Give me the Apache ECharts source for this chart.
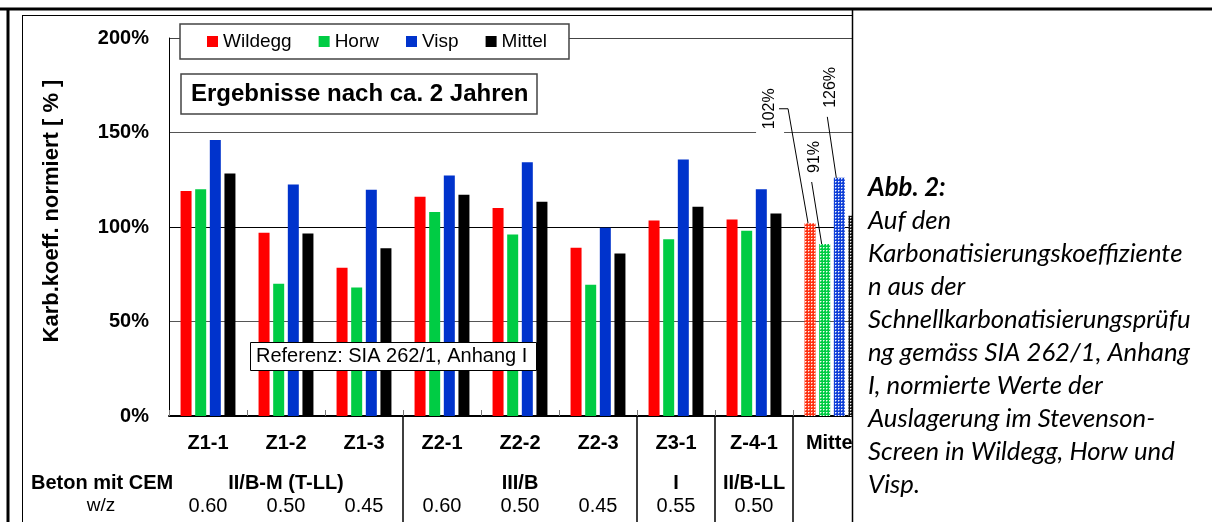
<!DOCTYPE html>
<html><head><meta charset="utf-8">
<script src="https://cdn.jsdelivr.net/npm/echarts@6/dist/echarts.min.js"></script>
<style>html,body{margin:0;padding:0;background:#fff}#c{width:1212px;height:522px}</style>
</head><body><div id="c"></div>
<script>
const categories = ['Z1-1','Z1-2','Z1-3','Z2-1','Z2-2','Z2-3','Z3-1','Z-4-1','Mittel'];
const wildegg = [119, 97, 78.5, 116, 110, 89, 103.5, 104, 102];
const horw    = [120, 70, 68, 108, 96, 69.5, 93.5, 98, 91];
const visp    = [146, 122.5, 119.7, 127.2, 134.3, 99.6, 135.7, 120, 126];
const mittel  = [128.3, 96.5, 88.7, 117, 113.4, 86, 110.7, 107.2, 106];
const cemRow = ['', 'II/B-M (T-LL)', '', '', 'III/B', '', 'I', 'II/B-LL', ''];
const wzRow  = ['0.60','0.50','0.45','0.60','0.50','0.45','0.55','0.50',''];
const separatorIdx = [3, 6, 7, 8];
const seriesNames = ['Wildegg','Horw','Visp','Mittel'];
const captionLines = ['Abb. 2:', 'Auf den', 'Karbonatisierungskoeffiziente', 'n aus der',
  'Schnellkarbonatisierungsprüfu', 'ng gemäss SIA 262/1, Anhang', 'I, normierte Werte der',
  'Auslagerung im Stevenson-', 'Screen in Wildegg, Horw und', 'Visp.'];

const FF = '"Liberation Sans", Arial, sans-serif';
const colors = ['#FF0000', '#00CC44', '#0033CC', '#000000'];
const patternBase = ['#FF3010', '#00CC44', '#1040D8', '#111111'];
const labelShift = [
  {sx: -40, sy: -82, pad: [9, 2, 3, 7], side: true},
  {sx: -10, sy: -64, pad: [3, 2, 3, 2], side: false},
  {sx: -9, sy: -63, pad: [3, 2, 3, 2], side: false},
  null];
const avgIdx = categories.length - 1;
const leaderPts = [];

function pattern(base) {
  const c = document.createElement('canvas'); c.width = 3; c.height = 3;
  const g = c.getContext('2d');
  g.fillStyle = base; g.fillRect(0, 0, 3, 3);
  g.fillStyle = 'rgba(255,255,255,0.95)'; g.fillRect(1, 1, 1, 1);
  g.fillStyle = 'rgba(255,255,255,0.45)'; g.fillRect(2, 1, 1, 1); g.fillRect(1, 2, 1, 1);
  return {image: c, repeat: 'repeat'};
}

const allData = [wildegg, horw, visp, mittel];
const series = allData.map((vals, s) => ({
  name: seriesNames[s], type: 'bar', barWidth: 11, barGap: '33%',
  itemStyle: {color: colors[s]},
  data: vals.map((v, i) => {
    if (i !== avgIdx) return v;
    const it = {value: v, itemStyle: {color: pattern(patternBase[s])}};
    if (labelShift[s]) it.label = {show: true, padding: labelShift[s].pad};
    return it;
  }),
  label: {show: false, position: 'top', distance: 5, rotate: 90, align: 'left', verticalAlign: 'middle',
    formatter: '{c}%', fontFamily: FF, fontSize: 16, color: '#000',
    backgroundColor: '#fff'},
  labelLayout: function (p) {
    const L = labelShift[s];
    if (p.dataIndex !== avgIdx || !L) return {};
    const lr = p.labelRect, r = p.rect;
    const pad = L.pad;
    const tx0 = lr.x + pad[0] + L.sx, tx1 = lr.x + lr.width - pad[2] + L.sx;
    const ty0 = lr.y + pad[1] + L.sy, ty1 = lr.y + lr.height - pad[3] + L.sy;
    const cx = (tx0 + tx1) / 2, cy = (ty0 + ty1) / 2;
    const barX = r.x + r.width / 2 - 2, barTop = r.y;
    leaderPts[s] = L.side
      ? [[tx1 - 2, cy], [tx1 + 7, cy], [barX, barTop]]
      : [[cx - 3, ty1 + 9], [barX - 1, barTop]];
    return {dx: -L.sy, dy: L.sx};
  }
}));

const mctx = document.createElement('canvas').getContext('2d');
mctx.font = 'italic 24px Lato';
const capSize = Math.max(18, Math.min(26, 24 * 315 / mctx.measureText('Karbonatisierungskoeffiziente').width));

const graphics = [
  {type: 'rect', z: 50, shape: {x: 853, y: 0, width: 360, height: 522}, style: {fill: '#fff'}},
  {type: 'text', z: 51, x: 31, y: 483, style: {text: 'Beton mit CEM', font: 'bold 20px ' + FF, fill: '#000', textVerticalAlign: 'middle', verticalAlign: 'middle'}},
  {type: 'text', z: 51, x: 101, y: 506, style: {text: 'w/z', font: '19px ' + FF, fill: '#000', textAlign: 'center', align: 'center', textVerticalAlign: 'middle', verticalAlign: 'middle'}},
  {type: 'text', z: 51, x: 52, y: 211, rotation: Math.PI / 2, style: {text: 'Karb.koeff. normiert [ % ]', font: 'bold 22px ' + FF, fill: '#000', textAlign: 'center', align: 'center', textVerticalAlign: 'middle', verticalAlign: 'middle'}},
  {type: 'line', z: 60, shape: {x1: 0, y1: 9, x2: 1212, y2: 9}, style: {stroke: '#000', lineWidth: 3}},
  {type: 'line', z: 60, shape: {x1: 8, y1: 8, x2: 8, y2: 522}, style: {stroke: '#000', lineWidth: 3}},
  {type: 'line', z: 60, shape: {x1: 22, y1: 15.5, x2: 852, y2: 15.5}, style: {stroke: '#000', lineWidth: 1}},
  {type: 'line', z: 60, shape: {x1: 22.5, y1: 15, x2: 22.5, y2: 522}, style: {stroke: '#000', lineWidth: 1}},
  {type: 'line', z: 60, shape: {x1: 852.5, y1: 9, x2: 852.5, y2: 522}, style: {stroke: '#000', lineWidth: 1.5}}
];
captionLines.forEach((t, i) => {
  graphics.push({type: 'text', z: 51, x: 868, y: 188 + 33 * i,
    style: {text: t, font: (i === 0 ? 'italic bold ' : 'italic ') + capSize.toFixed(1) + 'px Lato', fill: '#000',
      textVerticalAlign: 'middle', verticalAlign: 'middle'}});
});

const chart = echarts.init(document.getElementById('c'), null, {renderer: 'canvas'});
chart.setOption({
  animation: false,
  backgroundColor: '#fff',
  grid: {left: 169, top: 38, right: 341, bottom: 106, containLabel: false},
  title: [
    {text: 'Ergebnisse nach ca. 2 Jahren', left: 181, top: 74, padding: [8, 9, 8, 10],
      borderColor: '#444', borderWidth: 1.5, backgroundColor: '#fff',
      textStyle: {fontSize: 24, fontWeight: 'bold', color: '#000', fontFamily: FF, lineHeight: 24}},
    {text: 'Referenz: SIA 262/1, Anhang I', left: 250, top: 342, padding: [4, 9, 4, 6],
      borderColor: '#000', borderWidth: 1, backgroundColor: '#fff',
      textStyle: {fontSize: 20, fontWeight: 'normal', color: '#000', fontFamily: FF, lineHeight: 21}}
  ],
  legend: {left: 180, top: 24, padding: [8, 22, 8, 27], itemGap: 27, itemWidth: 11, itemHeight: 11,
    icon: 'rect', borderColor: '#444', borderWidth: 1.5, backgroundColor: '#fff',
    textStyle: {fontSize: 19, color: '#000', fontFamily: FF, lineHeight: 19},
    data: seriesNames},
  xAxis: [
    {type: 'category', data: categories, position: 'bottom', offset: 0,
      axisLine: {lineStyle: {color: '#000', width: 2}},
      axisTick: {show: true, inside: true, length: 6, lineStyle: {color: '#777'}},
      axisLabel: {interval: 0, margin: 17, fontSize: 20, fontWeight: 'bold', color: '#000', fontFamily: FF},
      splitLine: {show: false}},
    {type: 'category', data: cemRow, position: 'bottom', offset: 0,
      axisLine: {show: false},
      axisTick: {show: true, inside: false, length: 106, interval: (i) => separatorIdx.includes(i),
        lineStyle: {color: '#000', width: 1.5}},
      axisLabel: {interval: 0, margin: 57, fontSize: 20, fontWeight: 'bold', color: '#000', fontFamily: FF},
      splitLine: {show: false}},
    {type: 'category', data: wzRow, position: 'bottom', offset: 0,
      axisLine: {show: false}, axisTick: {show: false},
      axisLabel: {interval: 0, margin: 80, fontSize: 20, color: '#000', fontFamily: FF},
      splitLine: {show: false}}
  ],
  yAxis: {type: 'value', min: 0, max: 200, interval: 50,
    axisLine: {show: true, lineStyle: {color: '#000', width: 1}},
    axisTick: {show: false},
    axisLabel: {formatter: '{value}%', margin: 20, fontSize: 20, fontWeight: 'bold', color: '#000', fontFamily: FF},
    splitLine: {show: true, lineStyle: {color: ['#000', '#555', '#000', '#555', '#444'], width: 1}}},
  series: series,
  graphic: graphics
});

const leaders = leaderPts.filter(Boolean).map(pts => ({
  type: 'polyline', z: 40, shape: {points: pts}, style: {stroke: '#000', lineWidth: 1, fill: null}
}));
if (leaders.length) chart.setOption({graphic: graphics.concat(leaders)});
</script></body></html>
